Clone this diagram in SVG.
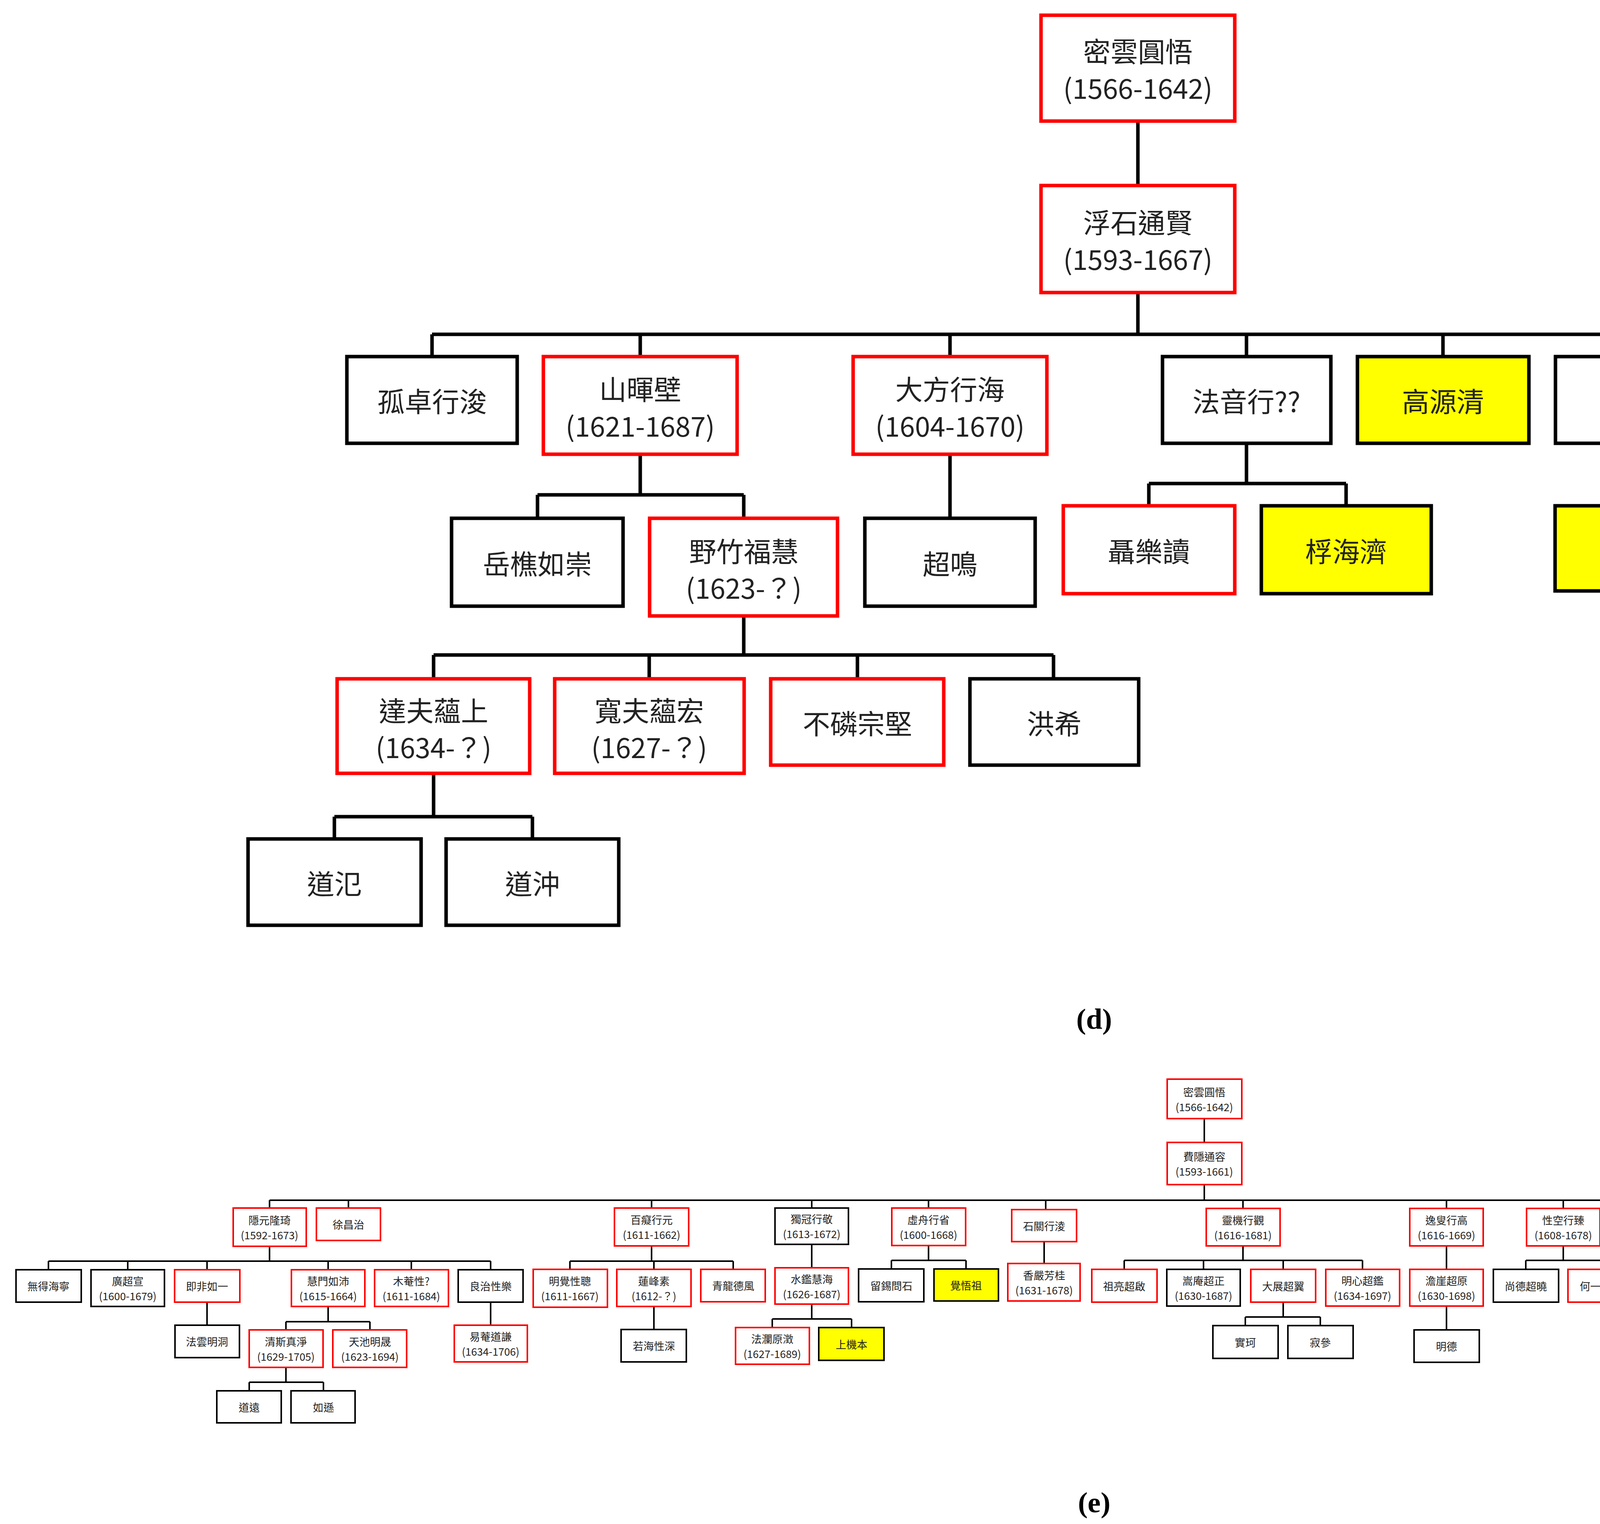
<svg xmlns="http://www.w3.org/2000/svg" width="5595" height="3902" viewBox="0 0 5595 3902">
<style>
.r{fill:#fff;stroke:#f00}.k{fill:#fff;stroke:#000}.y{fill:#ff0;stroke:#000}
.T rect{stroke-width:9}.B rect{stroke-width:4}
text{font-family:"Noto Sans CJK TC","Noto Sans",sans-serif;text-anchor:middle;dominant-baseline:central;fill:#222}
.T text{font-size:70px}.B text{font-size:27px}
.TS text{font-family:"Liberation Serif","Noto Sans CJK TC",serif}
.lbl{font-family:"Liberation Serif",serif;font-weight:bold;font-size:75px;fill:#000}
.c{stroke:#000;fill:none}
</style>
<rect width="5595" height="3902" fill="#fff"/>
<g id="connectors">
<path class="c" stroke-width="9" d="M2913 310V475M2913 749V856M1106 856H4724M1106 856V913M1639 856V913M2432 856V913M3191 856V913M3694 856V913M4200 856V913M4724 856V913
M1639 1163V1267M1376 1267H1904M1376 1267V1327M1904 1267V1327M2432 1163V1327
M3191 1135V1238M2941 1238H3446M2941 1238V1295M3446 1238V1295M4200 1135V1295M4724 1156V1320M4724 1545V1705
M1904 1577V1677M1110 1677H2697M1110 1677V1738M1662 1677V1738M2195 1677V1738M2697 1677V1738
M1110 1980V2091M856 2091H1363M856 2091V2148M1363 2091V2148"/>
<path class="c" stroke-width="4" d="M3083 2862V2925M3083 3033V3073M690 3073H5476
M690 3073V3093M892 3073V3093M1668 3073V3093M2078 3073V3093M2377 3073V3093M2677 3073V3097M3182 3073V3094M3703 3073V3094M4002 3073V3094M4290 3073V3094M4481 3073V3094M4682 3073V3094M4883 3073V3094M5076 3073V3094M5277 3073V3094M5476 3073V3094
M690 3191V3229M124 3229H1256M124 3229V3251M327 3229V3251M530 3229V3251M840 3229V3251M1053 3229V3251M1256 3229V3251
M530 3334V3393M840 3345V3384M732 3384H947M732 3384V3405M947 3384V3405M1256 3334V3393
M732 3501V3539M638 3539H828M638 3539V3561M828 3539V3561
M1668 3190V3229M1459 3229H1877M1459 3229V3250M1674 3229V3250M1877 3229V3250M1674 3345V3404
M2078 3186V3246M2078 3339V3377M1977 3377H2180M1977 3377V3399M2180 3377V3399
M2377 3189V3227M2282 3227H2473M2282 3227V3249M2473 3227V3249M2673 3179V3235
M3182 3190V3227M2878 3227H3488M2878 3227V3250M3081 3227V3250M3285 3227V3250M3488 3227V3250
M3285 3334V3372M3188 3372H3380M3188 3372V3394M3380 3372V3394
M3703 3190V3250M3703 3344V3405
M4002 3190V3227M3906 3227H4098M3906 3227V3250M4098 3227V3250
M4290 3177V3238M4290 3321V3381M4682 3187V3247M4883 3177V3238M5076 3177V3238"/>
</g>
<g class="T">
<g id="d1"><rect class="r" x="2665" y="39" width="496" height="271"/><text x="2913" y="128">密雲圓悟</text><text x="2913" y="222">(1566-1642)</text></g>
<g id="d2"><rect class="r" x="2665" y="475" width="496" height="274"/><text x="2913" y="566">浮石通賢</text><text x="2913" y="660">(1593-1667)</text></g>
<g id="d3"><rect class="k" x="888" y="913" width="436" height="222"/><text x="1106" y="1024">孤卓行浚</text></g>
<g id="d4"><rect class="r" x="1391" y="913" width="496" height="250"/><text x="1639" y="993">山暉壁</text><text x="1639" y="1087">(1621-1687)</text></g>
<g id="d5"><rect class="r" x="2184" y="913" width="496" height="250"/><text x="2432" y="993">大方行海</text><text x="2432" y="1087">(1604-1670)</text></g>
<g id="d6"><rect class="k" x="2976" y="913" width="431" height="222"/><text x="3191" y="1024">法音行??</text></g>
<g id="d7"><rect class="y" x="3475" y="913" width="439" height="222"/><text x="3694" y="1024">高源清</text></g>
<g id="d8"><rect class="k" x="3982" y="913" width="435" height="222"/><text x="4200" y="1024">拳石沃</text></g>
<g id="d9" class="TS"><rect class="k" x="4485" y="913" width="478" height="243"/><text x="4724" y="995">彌壑行澧</text><text x="4724" y="1072">(1636-1684)</text></g>
<g id="d10"><rect class="k" x="1156" y="1327" width="439" height="225"/><text x="1376" y="1440">岳樵如崇</text></g>
<g id="d11"><rect class="r" x="1663" y="1327" width="481" height="250"/><text x="1904" y="1408">野竹福慧</text><text x="1904" y="1502">(1623-？)</text></g>
<g id="d12"><rect class="k" x="2214" y="1327" width="436" height="225"/><text x="2432" y="1440">超鳴</text></g>
<g id="d13"><rect class="r" x="2722" y="1295" width="439" height="225"/><text x="2941" y="1408">聶樂讀</text></g>
<g id="d14"><rect class="y" x="3229" y="1295" width="435" height="225"/><text x="3446" y="1408">桴海濟</text></g>
<g id="d15"><rect class="y" x="3981" y="1295" width="438" height="218"/><text x="4200" y="1404">慧空</text></g>
<g id="d16"><rect class="r" x="4503" y="1320" width="442" height="225"/><text x="4724" y="1433">霖沛汾</text></g>
<g id="d17"><rect class="k" x="4503" y="1705" width="442" height="222"/><text x="4724" y="1816">祖燈</text></g>
<g id="d18"><rect class="r" x="863" y="1738" width="493" height="242"/><text x="1110" y="1816">達夫蘊上</text><text x="1110" y="1910">(1634-？)</text></g>
<g id="d19"><rect class="r" x="1420" y="1738" width="485" height="242"/><text x="1662" y="1816">寬夫蘊宏</text><text x="1662" y="1910">(1627-？)</text></g>
<g id="d20"><rect class="r" x="1973" y="1738" width="443" height="221"/><text x="2195" y="1849">不磷宗堅</text></g>
<g id="d21"><rect class="k" x="2483" y="1738" width="432" height="221"/><text x="2699" y="1849">洪希</text></g>
<g id="d22"><rect class="k" x="635" y="2148" width="443" height="221"/><text x="856" y="2259">道氾</text></g>
<g id="d23"><rect class="k" x="1142" y="2148" width="442" height="221"/><text x="1363" y="2259">道沖</text></g>
</g>
<text class="lbl" x="2801" y="2608">(d)</text>
<g class="B">
<g id="e1"><rect class="r" x="2988" y="2763" width="191" height="101"/><text x="3083" y="2795">密雲圓悟</text><text x="3083" y="2833">(1566-1642)</text></g>
<g id="e2"><rect class="r" x="2988" y="2925" width="191" height="108"/><text x="3083" y="2960">費隱通容</text><text x="3083" y="2998">(1593-1661)</text></g>
<g id="e3"><rect class="r" x="597" y="3093" width="187" height="98"/><text x="690" y="3123">隱元隆琦</text><text x="690" y="3161">(1592-1673)</text></g>
<g id="e4"><rect class="r" x="810" y="3093" width="164" height="83"/><text x="892" y="3134">徐昌治</text></g>
<g id="e5"><rect class="r" x="1573" y="3093" width="190" height="97"/><text x="1668" y="3122">百癡行元</text><text x="1668" y="3160">(1611-1662)</text></g>
<g id="e6"><rect class="k" x="1984" y="3093" width="188" height="93"/><text x="2078" y="3120">獨冠行敬</text><text x="2078" y="3158">(1613-1672)</text></g>
<g id="e7"><rect class="r" x="2283" y="3093" width="189" height="96"/><text x="2377" y="3122">虛舟行省</text><text x="2377" y="3160">(1600-1668)</text></g>
<g id="e8"><rect class="r" x="2590" y="3097" width="166" height="82"/><text x="2673" y="3138">石關行淩</text></g>
<g id="e9"><rect class="r" x="3088" y="3094" width="189" height="96"/><text x="3182" y="3123">靈機行觀</text><text x="3182" y="3161">(1616-1681)</text></g>
<g id="e10"><rect class="r" x="3609" y="3094" width="188" height="96"/><text x="3703" y="3123">逸叟行高</text><text x="3703" y="3161">(1616-1669)</text></g>
<g id="e11"><rect class="r" x="3908" y="3094" width="188" height="96"/><text x="4002" y="3123">性空行臻</text><text x="4002" y="3161">(1608-1678)</text></g>
<g id="e12"><rect class="k" x="4207" y="3094" width="167" height="83"/><text x="4290" y="3135">太白行雪</text></g>
<g id="e13"><rect class="y" x="4400" y="3094" width="163" height="81"/><text x="4481" y="3134">法淨晧</text></g>
<g id="e14"><rect class="r" x="4590" y="3094" width="185" height="93"/><text x="4682" y="3122">本充行盛</text><text x="4682" y="3160">(?-1671)</text></g>
<g id="e15"><rect class="r" x="4800" y="3094" width="167" height="83"/><text x="4883" y="3135">劍門行謙</text></g>
<g id="e16"><rect class="k" x="4993" y="3094" width="166" height="83"/><text x="5076" y="3135">天則行琛</text></g>
<g id="e17"><rect class="r" x="5185" y="3094" width="184" height="92"/><text x="5277" y="3122">孤雲行鑑</text><text x="5277" y="3160">(?-1661)</text></g>
<g id="e18"><rect class="r" x="5394" y="3094" width="165" height="82"/><text x="5476" y="3135">三笑行密</text></g>
<g id="e19"><rect class="k" x="41" y="3251" width="167" height="83"/><text x="124" y="3292">無得海寧</text></g>
<g id="e20"><rect class="k" x="233" y="3251" width="188" height="94"/><text x="327" y="3279">廣超宣</text><text x="327" y="3317">(1600-1679)</text></g>
<g id="e21"><rect class="r" x="447" y="3251" width="167" height="83"/><text x="530" y="3292">即非如一</text></g>
<g id="e22"><rect class="r" x="746" y="3251" width="188" height="94"/><text x="840" y="3279">慧門如沛</text><text x="840" y="3317">(1615-1664)</text></g>
<g id="e23"><rect class="r" x="959" y="3251" width="189" height="94"/><text x="1053" y="3279">木菴性?</text><text x="1053" y="3317">(1611-1684)</text></g>
<g id="e24"><rect class="k" x="1173" y="3251" width="166" height="83"/><text x="1256" y="3292">良治性樂</text></g>
<g id="e25"><rect class="k" x="448" y="3393" width="165" height="83"/><text x="530" y="3434">法雲明洞</text></g>
<g id="e26"><rect class="r" x="638" y="3405" width="189" height="96"/><text x="732" y="3434">清斯真淨</text><text x="732" y="3472">(1629-1705)</text></g>
<g id="e27"><rect class="r" x="852" y="3405" width="189" height="96"/><text x="947" y="3434">天池明晟</text><text x="947" y="3472">(1623-1694)</text></g>
<g id="e28"><rect class="r" x="1163" y="3393" width="187" height="94"/><text x="1256" y="3421">易菴道謙</text><text x="1256" y="3459">(1634-1706)</text></g>
<g id="e29"><rect class="k" x="555" y="3561" width="165" height="82"/><text x="638" y="3602">道遠</text></g>
<g id="e30"><rect class="k" x="745" y="3561" width="164" height="82"/><text x="828" y="3602">如遜</text></g>
<g id="e31"><rect class="r" x="1365" y="3250" width="190" height="97"/><text x="1459" y="3279">明覺性聰</text><text x="1459" y="3317">(1611-1667)</text></g>
<g id="e32"><rect class="r" x="1579" y="3250" width="190" height="95"/><text x="1674" y="3279">蓮峰素</text><text x="1674" y="3317">(1612-？)</text></g>
<g id="e33"><rect class="r" x="1794" y="3250" width="165" height="83"/><text x="1877" y="3291">青龍德風</text></g>
<g id="e34"><rect class="k" x="1590" y="3404" width="167" height="83"/><text x="1674" y="3445">若海性深</text></g>
<g id="e35"><rect class="r" x="1984" y="3246" width="188" height="93"/><text x="2078" y="3274">水鑑慧海</text><text x="2078" y="3312">(1626-1687)</text></g>
<g id="e36"><rect class="r" x="1883" y="3399" width="189" height="94"/><text x="1977" y="3427">法瀾原澂</text><text x="1977" y="3465">(1627-1689)</text></g>
<g id="e37"><rect class="y" x="2096" y="3399" width="167" height="84"/><text x="2180" y="3441">上機本</text></g>
<g id="e38"><rect class="k" x="2198" y="3249" width="167" height="84"/><text x="2282" y="3291">留錫問石</text></g>
<g id="e39"><rect class="y" x="2391" y="3249" width="165" height="82"/><text x="2473" y="3290">覺悟祖</text></g>
<g id="e40"><rect class="r" x="2580" y="3235" width="185" height="96"/><text x="2673" y="3264">香嚴芳桂</text><text x="2673" y="3302">(1631-1678)</text></g>
<g id="e41"><rect class="r" x="2795" y="3250" width="167" height="84"/><text x="2878" y="3292">祖亮超啟</text></g>
<g id="e42"><rect class="k" x="2987" y="3250" width="188" height="94"/><text x="3081" y="3278">嵩庵超正</text><text x="3081" y="3316">(1630-1687)</text></g>
<g id="e43"><rect class="r" x="3202" y="3250" width="166" height="84"/><text x="3285" y="3292">大展超翼</text></g>
<g id="e44"><rect class="r" x="3394" y="3250" width="189" height="94"/><text x="3488" y="3278">明心超鑑</text><text x="3488" y="3316">(1634-1697)</text></g>
<g id="e45"><rect class="k" x="3105" y="3394" width="167" height="84"/><text x="3188" y="3436">實珂</text></g>
<g id="e46"><rect class="k" x="3297" y="3394" width="167" height="84"/><text x="3380" y="3436">寂參</text></g>
<g id="e47"><rect class="r" x="3609" y="3250" width="188" height="94"/><text x="3703" y="3278">澹崖超原</text><text x="3703" y="3316">(1630-1698)</text></g>
<g id="e48"><rect class="k" x="3620" y="3405" width="167" height="83"/><text x="3703" y="3446">明德</text></g>
<g id="e49"><rect class="k" x="3823" y="3250" width="167" height="84"/><text x="3906" y="3292">尚德超曉</text></g>
<g id="e50"><rect class="r" x="4014" y="3250" width="166" height="84"/><text x="4098" y="3292">何一超自</text></g>
<g id="e51"><rect class="r" x="4207" y="3238" width="167" height="83"/><text x="4290" y="3279">祖林明</text></g>
<g id="e52"><rect class="k" x="4207" y="3381" width="167" height="83"/><text x="4290" y="3422">普運</text></g>
<g id="e53"><rect class="y" x="4599" y="3247" width="166" height="82"/><text x="4682" y="3288">一真恩</text></g>
<g id="e54"><rect class="r" x="4800" y="3238" width="167" height="83"/><text x="4883" y="3279">癡山嵩</text></g>
<g id="e55"><rect class="r" x="4993" y="3238" width="166" height="83"/><text x="5076" y="3279">懷日光</text></g>
</g>
<text class="lbl" x="2801" y="3846">(e)</text>
</svg>
